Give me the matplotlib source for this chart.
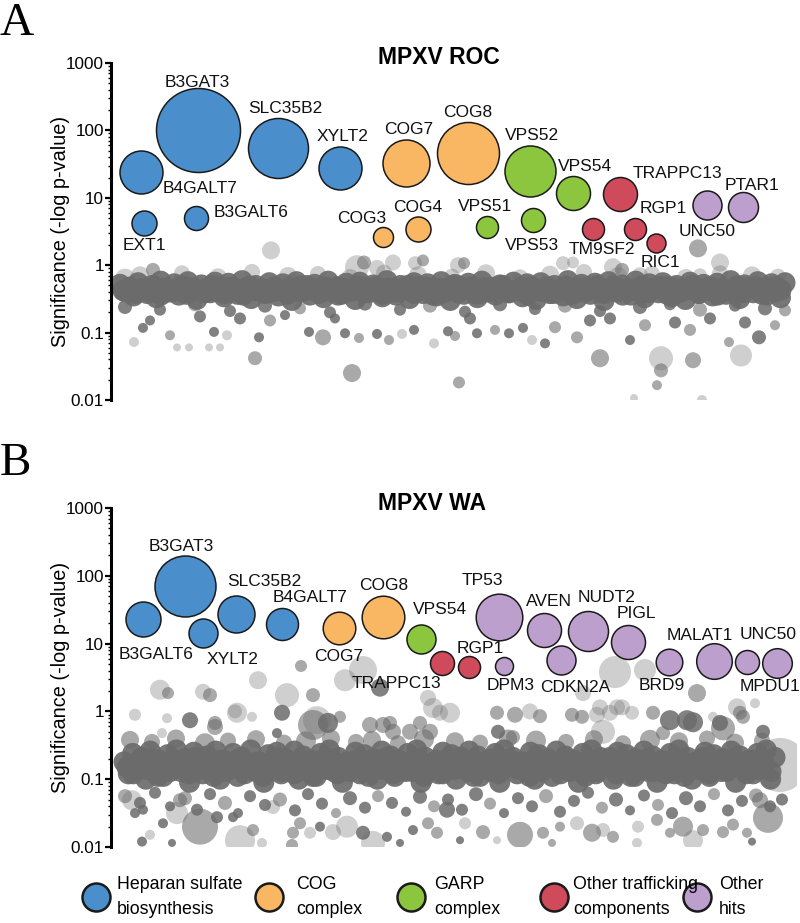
import numpy as np
import matplotlib
matplotlib.use("Agg")
import matplotlib.pyplot as plt
from matplotlib import font_manager as fm
from matplotlib.ticker import FixedLocator, FixedFormatter, LogLocator, NullFormatter

# ---------------------------------------------------------------- data
categories = ["Heparan sulfate\nbiosynthesis", "COG\ncomplex", "GARP\ncomplex",
              "Other trafficking\ncomponents", "Other\nhits"]
cat_colors = ["#4a8fcb", "#f9b663", "#8cc63f", "#cf4a5a", "#bd9fcd"]

ytick_vals = [0.01, 0.1, 1, 10, 100, 1000]
ytick_labels = ["0.01", "0.1", "1", "10", "100", "1000"]

# Panel A: MPXV ROC hits
A_genes = ["B3GAT3", "SLC35B2", "XYLT2", "B4GALT7", "B3GALT6", "EXT1",
           "COG8", "COG7", "COG4", "COG3",
           "VPS52", "VPS54", "VPS53", "VPS51",
           "TRAPPC13", "RGP1", "TM9SF2", "RIC1",
           "UNC50", "PTAR1"]
A_pos = [198, 278, 340, 141, 196, 144, 468, 406, 418, 383,
         530, 573, 533, 487, 620, 635, 593, 656, 707, 743]
A_sig = [100, 54, 27.5, 24, 5.0, 4.2, 46, 32.6, 3.5, 2.6,
         24.8, 11.7, 4.7, 3.7, 11.3, 3.5, 3.5, 2.1, 7.8, 7.3]
A_score = [42, 30, 21.5, 21.5, 12, 12.5, 31, 23.5, 12.5, 10,
           25.5, 17, 12, 11, 17, 11, 11, 9.5, 14.5, 15]
A_cat = [0, 0, 0, 0, 0, 0, 1, 1, 1, 1, 2, 2, 2, 2, 3, 3, 3, 3, 4, 4]

# Panel B: MPXV WA hits
B_genes = ["B3GAT3", "B3GALT6", "XYLT2", "SLC35B2", "B4GALT7",
           "COG7", "COG8", "VPS54", "TRAPPC13", "RGP1",
           "DPM3", "TP53", "AVEN", "NUDT2", "CDKN2A", "PIGL",
           "BRD9", "MALAT1", "UNC50", "MPDU1"]
B_pos = [185, 143, 203, 236, 282, 339, 383, 421, 442, 469,
         504, 499, 544, 588, 561, 628, 669, 714, 747, 777]
B_sig = [70.8, 23.1, 14.3, 27.3, 19.5, 17.0, 24.7, 11.7, 5.2, 4.5,
         4.7, 24.7, 15.9, 15.3, 5.7, 10.6, 5.4, 5.5, 5.4, 5.2]
B_score = [30.5, 17.5, 14.5, 18.5, 16, 16.3, 21.3, 14.5, 12, 11,
           9, 23.3, 17, 20, 14.5, 17, 13.3, 17.8, 12, 14.8]
B_cat = [0, 0, 0, 0, 0, 1, 1, 2, 3, 3, 4, 4, 4, 4, 4, 4, 4, 4, 4, 4]

# Background genes: dense band (significance values, in genome order)
bandA_sig = [0.52, 0.41, 0.47, 0.35, 0.55, 0.44, 0.38, 0.50, 0.33, 0.58, 0.46, 0.40, 0.53, 0.36, 0.49,
             0.57, 0.42, 0.31, 0.51, 0.45, 0.39, 0.56, 0.48, 0.34, 0.54, 0.43, 0.37, 0.59, 0.47, 0.32,
             0.50, 0.44, 0.38, 0.55, 0.41, 0.35, 0.53, 0.46, 0.30, 0.57, 0.49, 0.42, 0.36, 0.52, 0.45,
             0.33, 0.58, 0.40, 0.48, 0.37, 0.54, 0.43, 0.31, 0.56, 0.47, 0.39, 0.51, 0.44, 0.34, 0.59,
             0.42, 0.36, 0.50, 0.46, 0.32, 0.55, 0.48, 0.38, 0.53, 0.41, 0.35, 0.57, 0.45, 0.30, 0.52,
             0.49, 0.37, 0.54, 0.43, 0.33, 0.58, 0.40, 0.47, 0.36, 0.51, 0.44, 0.39, 0.56, 0.42, 0.34,
             0.53, 0.48, 0.31, 0.55, 0.46, 0.38, 0.50, 0.41, 0.35, 0.59, 0.45, 0.32, 0.52, 0.47, 0.37,
             0.54, 0.43, 0.30, 0.57, 0.49, 0.40, 0.51, 0.44, 0.36, 0.58, 0.42, 0.33, 0.53, 0.46, 0.39,
             0.55, 0.48, 0.34, 0.50, 0.41, 0.31, 0.56, 0.45, 0.38, 0.52, 0.47, 0.35, 0.54, 0.43, 0.37,
             0.59, 0.40, 0.32, 0.51, 0.46, 0.39, 0.57, 0.44, 0.36, 0.53, 0.48, 0.33, 0.55]
bandA2_sig = [0.42, 0.47, 0.38, 0.45, 0.40, 0.49, 0.36, 0.44, 0.41, 0.48, 0.37, 0.46, 0.43, 0.39, 0.50,
              0.41, 0.38, 0.47, 0.44, 0.36, 0.49, 0.42, 0.45, 0.39, 0.48, 0.43, 0.37, 0.46, 0.40, 0.50,
              0.43, 0.38, 0.47, 0.44, 0.36, 0.45, 0.41, 0.49, 0.39, 0.42, 0.48, 0.37, 0.46, 0.40, 0.44,
              0.50, 0.38, 0.42, 0.47, 0.36, 0.45, 0.40, 0.49, 0.39, 0.43, 0.48, 0.37, 0.46, 0.41, 0.44,
              0.50, 0.39, 0.42, 0.47, 0.36, 0.45, 0.41, 0.48, 0.38, 0.43, 0.49, 0.37, 0.46, 0.40, 0.44,
              0.50, 0.38, 0.43, 0.47, 0.36, 0.45, 0.42, 0.49, 0.39, 0.44, 0.48, 0.37, 0.46, 0.40, 0.43,
              0.50, 0.38, 0.42, 0.47, 0.36, 0.45, 0.41, 0.49, 0.39, 0.44, 0.48, 0.37, 0.46, 0.40, 0.43]
bandB_sig = [0.18, 0.12, 0.24, 0.15, 0.21, 0.10, 0.26, 0.14, 0.19, 0.11, 0.23, 0.16, 0.27, 0.13, 0.20,
             0.09, 0.25, 0.17, 0.12, 0.22, 0.15, 0.26, 0.10, 0.19, 0.14, 0.24, 0.11, 0.21, 0.17, 0.27,
             0.13, 0.18, 0.09, 0.23, 0.16, 0.25, 0.12, 0.20, 0.15, 0.26, 0.10, 0.22, 0.14, 0.19, 0.11,
             0.24, 0.17, 0.27, 0.13, 0.21, 0.09, 0.18, 0.16, 0.25, 0.12, 0.23, 0.15, 0.20, 0.10, 0.26,
             0.14, 0.22, 0.11, 0.19, 0.17, 0.24, 0.13, 0.27, 0.09, 0.21, 0.16, 0.18, 0.12, 0.25, 0.15,
             0.23, 0.10, 0.20, 0.14, 0.26, 0.11, 0.22, 0.17, 0.19, 0.13, 0.24, 0.09, 0.27, 0.16, 0.21,
             0.12, 0.18, 0.15, 0.25, 0.10, 0.23, 0.14, 0.20, 0.11, 0.26, 0.17, 0.22, 0.13, 0.19, 0.09,
             0.24, 0.16, 0.27, 0.12, 0.21, 0.15, 0.18, 0.10, 0.25, 0.14, 0.23, 0.11, 0.20, 0.17, 0.26,
             0.13, 0.22, 0.09, 0.19, 0.16, 0.24, 0.12, 0.27, 0.15, 0.21, 0.10, 0.18, 0.14, 0.25, 0.11,
             0.23, 0.17, 0.20, 0.13, 0.26, 0.09, 0.22, 0.16, 0.19, 0.12, 0.24, 0.15, 0.27, 0.10, 0.21]
bandB2_sig = [0.15, 0.12, 0.18, 0.14, 0.20, 0.11, 0.17, 0.13, 0.19, 0.15, 0.12, 0.21, 0.14, 0.17, 0.11,
              0.19, 0.13, 0.16, 0.20, 0.12, 0.15, 0.18, 0.11, 0.14, 0.21, 0.13, 0.17, 0.12, 0.19, 0.15,
              0.11, 0.18, 0.14, 0.20, 0.12, 0.16, 0.13, 0.19, 0.15, 0.11, 0.17, 0.14, 0.21, 0.12, 0.18,
              0.13, 0.16, 0.20, 0.11, 0.15, 0.19, 0.12, 0.17, 0.14, 0.21, 0.13, 0.18, 0.11, 0.16, 0.20,
              0.12, 0.15, 0.19, 0.14, 0.17, 0.11, 0.21, 0.13, 0.18, 0.15, 0.12, 0.20, 0.14, 0.16, 0.11,
              0.19, 0.13, 0.17, 0.21, 0.12, 0.15, 0.18, 0.11, 0.14, 0.20, 0.13, 0.16, 0.12, 0.19, 0.15,
              0.11, 0.17, 0.14, 0.21, 0.12, 0.18, 0.13, 0.16, 0.20, 0.15, 0.12, 0.19, 0.14, 0.17, 0.13]

# Background genes outside the band: position, log10(significance), bubble score, opacity class
bgA_pos = [271, 698, 720, 125, 153, 357, 377, 393, 415, 458, 563, 613, 622, 364, 423, 464, 573, 640, 700,
           125, 160, 195, 230, 265, 300, 330, 365, 400, 430, 465, 500, 535, 565, 600, 640, 670, 700, 735, 765,
           134, 143, 150, 170, 177, 189, 200, 209, 214, 220, 227, 240, 259, 270, 285, 309, 323, 335, 345, 359,
           377, 389, 402, 414, 434, 448, 455, 470, 477, 495, 509, 523, 532, 545, 555, 577, 590, 610, 630, 645,
           675, 690, 710, 729, 745, 759, 775, 785,
           255, 352, 459, 600, 634, 657, 661, 661, 693, 702, 741,
           140, 182, 218, 252, 288, 318, 350, 384, 418, 452, 486, 520, 550, 584, 618, 652, 686, 720, 752, 778]
bgA_log = [0.22, 0.25, 0.04, -0.20, -0.07, -0.03, -0.04, 0.04, 0.03, 0.00, 0.03, -0.03, -0.07, 0.04, 0.07,
           0.03, 0.04, -0.15, -0.15,
           -0.62, -0.66, -0.58, -0.68, -0.60, -0.64, -0.70, -0.57, -0.66, -0.60, -0.69, -0.58, -0.65, -0.60,
           -0.68, -0.62, -0.58, -0.66, -0.60, -0.64,
           -1.14, -0.93, -0.82, -1.04, -1.22, -1.22, -0.76, -1.22, -0.99, -1.22, -1.04, -0.79, -1.07, -0.82,
           -0.74, -0.99, -1.07, -0.79, -1.01, -1.08, -1.02, -1.11, -1.02, -0.96, -1.16, -0.98, -1.05, -0.79,
           -1.01, -0.96, -1.01, -0.93, -1.11, -1.16, -0.92, -1.07, -0.82, -0.79, -1.11, -0.89, -0.85, -0.96,
           -0.79, -1.14, -0.85, -1.07, -0.89, -0.67,
           -1.38, -1.60, -1.74, -1.38, -1.97, -1.78, -1.56, -1.38, -1.41, -2.00, -1.34,
           -0.15, -0.12, -0.18, -0.10, -0.16, -0.13, -0.19, -0.11, -0.15, -0.17, -0.12, -0.18, -0.14, -0.10,
           -0.16, -0.13, -0.19, -0.12, -0.15, -0.17]
bgA_score = [9, 9, 9, 10, 7, 12, 8, 8, 7, 8, 7, 9, 7, 7, 6, 6, 6, 8, 7,
             7, 6, 7, 6, 7, 6, 6, 7, 6, 7, 6, 7, 6, 7, 6, 7, 6, 7, 6, 7,
             5, 5, 5, 5, 4, 4, 6, 4, 5, 4, 5, 6, 5, 6, 5, 5, 8, 5, 5, 5,
             5, 5, 5, 5, 5, 5, 5, 6, 5, 5, 5, 5, 5, 5, 6, 6, 6, 6, 5, 6,
             6, 6, 6, 5, 6, 7, 5, 6,
             7, 9, 6, 9, 4, 5, 7, 12, 8, 5, 11,
             9, 8, 9, 8, 9, 8, 9, 8, 9, 8, 9, 8, 9, 8, 9, 8, 9, 8, 9, 8]
bgA_k = [1, 2, 1, 1, 2, 1, 1, 1, 1, 1, 1, 1, 2, 2, 2, 2, 1, 1, 1,
         3, 3, 2, 3, 3, 2, 3, 3, 3, 2, 3, 3, 3, 2, 3, 3, 3, 2, 3, 3,
         1, 3, 3, 2, 1, 1, 3, 1, 3, 1, 1, 3, 3, 2, 3, 3, 2, 3, 3, 2,
         3, 2, 1, 3, 1, 3, 2, 3, 3, 2, 3, 3, 1, 3, 2, 2, 3, 3, 3, 2,
         3, 2, 3, 2, 3, 3, 2, 2,
         2, 2, 2, 2, 1, 2, 2, 1, 2, 1, 1,
         1, 1, 1, 1, 1, 1, 1, 1, 1, 1, 1, 1, 1, 1, 1, 1, 1, 1, 1, 1]

bgB_pos = [301, 258, 287, 313, 160, 168, 203, 210, 235, 135, 167, 190, 215, 252, 282, 317, 345, 363, 380,
           428, 433, 390, 420, 615, 645, 697, 755, 737, 450, 583, 497, 515, 530, 540, 600, 617, 653, 670,
           687, 720, 740, 162, 215, 237, 277, 313, 328, 340, 370, 383, 393, 410, 430, 440, 498, 513, 572,
           582, 597, 610, 622, 603, 632, 663, 693, 713, 723, 743, 763, 780,
           132, 135, 143, 142, 150, 163, 177, 200, 180, 172, 217, 233, 240, 262, 253, 273, 292, 293, 300,
           310, 320, 333, 347, 363, 373, 387, 400, 413, 428, 437, 447, 465, 483, 460, 497, 520, 543, 552,
           560, 577, 592, 603, 613, 637, 638, 657, 670, 683, 693, 703, 723, 733, 747, 752, 768, 760,
           125, 140, 155, 170, 185, 197, 210, 225, 238, 250, 265, 280, 295, 308, 322, 336, 350, 365, 378,
           392, 406, 420, 434, 448, 462, 476, 490, 504, 518, 532, 546, 560, 574, 588, 602, 616, 630, 644,
           658, 672, 686, 700, 714, 728, 742, 756, 770, 782,
           130, 152, 176, 205, 228, 256, 284, 306, 331, 356, 372, 398, 424, 455, 480, 508, 536, 566, 594,
           623, 650, 679, 707, 735, 762]
bgB_log = [0.67, 0.46, 0.24, 0.24, 0.32, 0.27, 0.29, 0.24, 0.00, -0.05, -0.10, -0.13, -0.17, -0.08, -0.02,
           -0.13, 0.46, 0.61, 0.35, 0.20, 0.05, -0.17, -0.17, 0.58, 0.61, 0.27, 0.12, 0.06, -0.02, 0.27,
           -0.02, -0.05, 0.00, -0.07, 0.06, 0.06, -0.02, -0.13, -0.13, -0.17, -0.02, -0.32, -0.23, -0.02,
           -0.32, -0.20, -0.17, -0.08, -0.20, -0.20, -0.30, -0.30, -0.30, -0.02, -0.30, -0.38, -0.05, -0.08,
           -0.05, -0.02, 0.06, -0.30, -0.02, -0.32, -0.16, -0.08, -0.25, -0.08, -0.30, -0.79,
           -1.31, -1.50, -1.45, -1.92, -1.82, -1.65, -1.50, -1.70, -1.31, -1.94, -1.56, -1.56, -1.90, -1.94,
           -1.75, -1.41, -1.97, -1.79, -1.65, -1.79, -1.70, -1.78, -1.70, -1.79, -1.94, -1.85, -1.94, -1.75,
           -1.65, -1.79, -1.45, -1.65, -1.78, -1.90, -1.90, -1.82, -1.79, -1.94, -1.70, -1.65, -1.79, -1.75,
           -1.85, -1.94, -1.70, -1.60, -1.79, -1.70, -1.90, -1.75, -1.78, -1.67, -1.79, -1.92, -1.57, -1.31,
           -1.25, -1.35, -1.20, -1.40, -1.28, -1.45, -1.22, -1.35, -1.50, -1.25, -1.38, -1.30, -1.46, -1.22,
           -1.36, -1.50, -1.28, -1.42, -1.25, -1.35, -1.48, -1.26, -1.40, -1.30, -1.45, -1.22, -1.36, -1.50,
           -1.28, -1.40, -1.25, -1.48, -1.32, -1.20, -1.42, -1.30, -1.46, -1.24, -1.38, -1.50, -1.28, -1.40,
           -1.22, -1.46, -1.32, -1.24, -1.40, -1.30,
           -0.42, -0.45, -0.40, -0.47, -0.43, -0.41, -0.46, -0.44, -0.40, -0.45, -0.42, -0.47, -0.41, -0.44,
           -0.46, -0.40, -0.43, -0.45, -0.41, -0.47, -0.42, -0.44, -0.40, -0.46, -0.43]
bgB_score = [6, 9, 12, 7, 10, 6, 8, 7, 7, 6, 5, 8, 7, 5, 8, 14, 11, 14, 9,
             8, 10, 7, 7, 16, 11, 9, 5, 9, 10, 8, 7, 8, 8, 7, 8, 8, 7, 10,
             10, 8, 7, 5, 8, 10, 5, 15, 10, 6, 8, 8, 8, 8, 8, 8, 7, 7, 7,
             7, 8, 8, 8, 12, 7, 7, 10, 5, 12, 7, 7, 27,
             10, 5, 5, 5, 5, 5, 11, 18, 7, 4, 6, 5, 15, 5, 6, 7, 6, 6, 6,
             6, 5, 8, 11, 7, 12, 5, 4, 5, 6, 6, 8, 6, 7, 4, 4, 13, 6, 4,
             5, 7, 9, 7, 6, 5, 6, 6, 5, 10, 10, 6, 6, 6, 5, 4, 15, 8,
             7, 6, 6, 5, 7, 6, 6, 7, 5, 6, 6, 7, 6, 6, 6, 5, 7, 6, 6,
             6, 5, 7, 6, 6, 6, 7, 6, 5, 6, 6, 7, 6, 6, 6, 6, 7, 5, 6,
             6, 6, 7, 6, 6, 6, 6, 7, 6, 6,
             9, 8, 9, 10, 8, 9, 8, 10, 9, 8, 9, 8, 10, 9, 8, 9, 10, 8, 9,
             8, 10, 9, 8, 9, 8]
bgB_k = [2, 1, 1, 2, 1, 2, 1, 2, 1, 1, 1, 3, 2, 1, 3, 1, 1, 1, 3,
         1, 1, 2, 2, 1, 1, 2, 1, 1, 1, 1, 2, 2, 1, 2, 1, 1, 2, 3,
         3, 3, 2, 1, 2, 1, 3, 2, 3, 2, 2, 2, 2, 2, 2, 1, 3, 2, 2,
         2, 1, 1, 1, 1, 1, 2, 3, 1, 2, 2, 3, 1,
         1, 3, 3, 3, 1, 3, 1, 2, 2, 3, 3, 3, 1, 1, 2, 1, 2, 2, 2,
         1, 3, 1, 1, 3, 1, 3, 3, 3, 2, 2, 3, 1, 2, 3, 1, 2, 2, 2,
         2, 1, 2, 1, 2, 1, 1, 2, 2, 2, 1, 2, 2, 2, 2, 3, 2, 2,
         2, 3, 3, 3, 2, 3, 3, 2, 3, 3, 3, 2, 3, 3, 3, 2, 3, 3, 2,
         3, 3, 3, 2, 3, 3, 3, 2, 3, 3, 3, 2, 3, 3, 3, 2, 3, 3, 3,
         2, 3, 3, 3, 2, 3, 3, 2, 3, 3,
         2, 2, 2, 2, 2, 2, 2, 2, 2, 2, 2, 2, 2, 2, 2, 2, 2, 2, 2,
         2, 2, 2, 2, 2, 2]

# ---------------------------------------------------------------- layout
W, H, DPI = 800, 923, 100
PT = 72.0 / DPI
plt.rcParams["font.family"] = ["Liberation Sans", "DejaVu Sans"]
fig = plt.figure(figsize=(W / DPI, H / DPI), dpi=DPI)

GRAY = "#6b6b6b"
ALPHA = {1: 0.32, 2: 0.58, 3: 0.85}

label_offsets_A = {
    "B3GAT3": (-1, -48), "SLC35B2": (7, -40), "XYLT2": (3, -32), "B4GALT7": (59, 16),
    "B3GALT6": (55, -6), "EXT1": (0, 22), "COG3": (-21, -19), "COG7": (3, -34),
    "COG8": (0, -41), "COG4": (0, -21), "VPS51": (-2, -20), "VPS52": (2, -36),
    "VPS53": (-1, 26), "VPS54": (12, -27), "TRAPPC13": (57, -21), "TM9SF2": (9, 21),
    "RGP1": (28, -20), "RIC1": (4, 19), "UNC50": (0, 26), "PTAR1": (9, -22)}
label_offsets_B = {
    "B3GAT3": (-4, -39), "SLC35B2": (28, -33), "B4GALT7": (28, -26), "B3GALT6": (13, 36),
    "XYLT2": (30, 26), "COG7": (0, 29), "COG8": (1, -31), "VPS54": (19, -29),
    "TRAPPC13": (-46, 21), "RGP1": (11, -19), "DPM3": (7, 20), "TP53": (-17, -36),
    "AVEN": (5, -28), "NUDT2": (19, -34), "PIGL": (8, -28), "CDKN2A": (14, 27),
    "BRD9": (-7, 24), "MALAT1": (-14, -26), "UNC50": (21, -27), "MPDU1": (-7, 24)}

_names = {f.name for f in fm.fontManager.ttflist}
if "Liberation Sans Narrow" in _names:
    LEG_FONT = dict(family=["Liberation Sans Narrow", "DejaVu Sans"], fontsize=14.5)
else:
    LEG_FONT = dict(family=["Liberation Sans", "DejaVu Sans"], fontsize=12.8)


def r2s(r):
    return (2 * np.asarray(r, dtype=float) * PT) ** 2


def px_axes(x0, y0, x1, y1):
    return fig.add_axes([x0 / W, 1 - y1 / H, (x1 - x0) / W, (y1 - y0) / H])


def panel(y_top, y_bot, letter, letter_y, title, title_y,
          bands, band_r,
          bg_pos, bg_log, bg_score, bg_k,
          genes, pos, sig, score, cat, offsets):
    ax = px_axes(111, y_top, 797, y_bot)
    ax.set_xlim(111, 797)
    ax.set_yscale("log")
    ax.set_ylim(0.01, 1000)
    for s in ["top", "right", "bottom"]:
        ax.spines[s].set_visible(False)
    ax.spines["left"].set_linewidth(2.2)
    ax.set_xticks([])
    ax.yaxis.set_major_locator(FixedLocator(ytick_vals))
    ax.yaxis.set_major_formatter(FixedFormatter(ytick_labels))
    ax.yaxis.set_minor_locator(LogLocator(base=10, subs=np.arange(2, 10), numticks=20))
    ax.yaxis.set_minor_formatter(NullFormatter())
    ax.tick_params(axis="y", which="major", length=4, width=1.6, labelsize=12.3, pad=1)
    ax.tick_params(axis="y", which="minor", length=2.2, width=1.0)
    ax.patch.set_alpha(0)

    # background genes outside the band
    cols = [(0.42, 0.42, 0.42, ALPHA[k]) for k in bg_k]
    ax.scatter(bg_pos, 10 ** np.asarray(bg_log), s=r2s(bg_score), c=cols,
               linewidths=0, zorder=2)
    # dense band of background genes
    for band_sig, x0, x1 in bands:
        bx = np.linspace(x0, x1, len(band_sig))
        ax.scatter(bx, band_sig, s=r2s(np.full(len(band_sig), band_r)), color=GRAY,
                   alpha=0.92, linewidths=0, zorder=2)

    # hits
    order = np.argsort(-np.asarray(score))
    for i in order:
        ax.scatter([pos[i]], [sig[i]], s=r2s([score[i]]), color=cat_colors[cat[i]],
                   edgecolors="#1a1a1a", linewidths=1.1, zorder=4, clip_on=False)
    for g, x, y in zip(genes, pos, sig):
        dx, dy = offsets[g]
        ax.annotate(g, xy=(x, y), xytext=(dx * PT, -dy * PT), textcoords="offset points",
                    ha="center", va="center", fontsize=12.5, color="#111111",
                    zorder=6, annotation_clip=False)

    fig.text(378 / W, 1 - title_y / H, title, ha="left", va="center",
             fontsize=16.5, fontweight="bold")
    fig.text(0 / W, 1 - letter_y / H, letter, ha="left", va="center",
             fontsize=34, family=["Liberation Serif", "DejaVu Serif"])
    fig.text(61 / W, 1 - (y_top + y_bot) / 2 / H, "Significance (-log p-value)",
             rotation=90, ha="center", va="center", fontsize=14.3)
    return ax


panel(63, 400, "A", 24, "MPXV ROC", 57,
      [(bandA_sig, 120, 785), (bandA2_sig, 123, 781)], 10.5,
      bgA_pos, bgA_log, bgA_score, bgA_k,
      A_genes, A_pos, A_sig, A_score, A_cat, label_offsets_A)
panel(508, 847, "B", 464, "MPXV WA", 503.5,
      [(bandB_sig, 124, 775), (bandB2_sig, 127, 771)], 10.5,
      bgB_pos, bgB_log, bgB_score, bgB_k,
      B_genes, B_pos, B_sig, B_score, B_cat, label_offsets_B)

# legend
lx_circle = [96, 269, 411, 554, 697]
lx_text = [117, 296, 434, 573, 719]
lax = px_axes(0, 860, 800, 923)
lax.set_xlim(0, 800)
lax.set_ylim(923, 860)
lax.axis("off")
for cx, tx, lab, col in zip(lx_circle, lx_text, categories, cat_colors):
    lax.scatter([cx], [897], s=r2s([14]), color=col, edgecolors="#1a1a1a",
                linewidths=1.8, clip_on=False)
    lax.text(tx, 897, lab, ha="left", va="center", linespacing=1.65, **LEG_FONT)

fig.savefig("out.png", dpi=DPI)
